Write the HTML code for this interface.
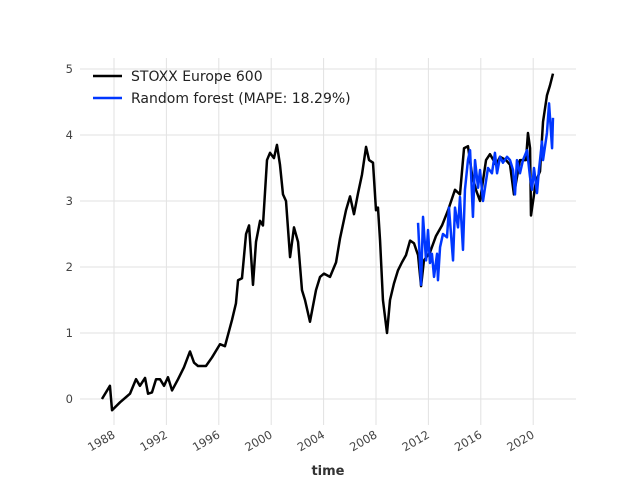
<!DOCTYPE html>
<html><head><meta charset="utf-8">
<style>body{margin:0;background:#fff}svg{font-family:"DejaVu Sans","Liberation Sans",sans-serif}</style></head>
<body>
<svg id="chart" width="640" height="480">
<g id="grid"></g>
<g id="ticks"></g>
<g id="series"></g>
<text x="328" y="480" text-anchor="middle" font-size="13" font-weight="bold" fill="#333" dy="-5">time</text>
<g>
<line x1="93" y1="76" x2="122" y2="76" stroke="#000" stroke-width="2.5"/>
<text x="131" y="81" font-size="14" fill="#222">STOXX Europe 600</text>
<line x1="93" y1="98" x2="122" y2="98" stroke="#0037ff" stroke-width="2.5"/>
<text x="131" y="103" font-size="14" fill="#222">Random forest (MAPE: 18.29%)</text>
</g>
</svg>
<script>
const actualDates=[1987.08,1987.69,1987.85,1988.46,1989.22,1989.68,1989.98,1990.37,1990.60,1990.90,1991.21,1991.51,1991.82,1992.12,1992.43,1992.89,1993.34,1993.80,1994.11,1994.41,1995.02,1995.48,1996.09,1996.47,1997.01,1997.31,1997.47,1997.77,1998.08,1998.31,1998.61,1998.84,1999.15,1999.37,1999.68,1999.91,2000.21,2000.44,2000.67,2000.90,2001.13,2001.44,2001.74,2002.05,2002.35,2002.58,2002.96,2003.42,2003.73,2004.03,2004.49,2004.95,2005.25,2005.71,2006.02,2006.32,2006.63,2006.93,2007.24,2007.47,2007.77,2008.0,2008.15,2008.31,2008.53,2008.84,2009.07,2009.37,2009.68,2009.98,2010.29,2010.60,2010.90,2011.21,2011.44,2011.66,2012.12,2012.58,2013.04,2013.50,2014.03,2014.41,2014.72,2015.02,2015.33,2015.63,2015.94,2016.40,2016.70,2017.16,2017.47,2017.92,2018.23,2018.53,2018.99,2019.45,2019.60,2019.76,2019.83,2020.21,2020.52,2020.75,2021.05,2021.28,2021.51];
const actualValues=[0,0.2,-0.17,-0.05,0.08,0.3,0.2,0.32,0.08,0.1,0.3,0.3,0.2,0.33,0.13,0.3,0.48,0.72,0.55,0.5,0.5,0.63,0.83,0.8,1.2,1.45,1.8,1.83,2.5,2.63,1.73,2.38,2.7,2.63,3.62,3.73,3.65,3.85,3.55,3.1,3.0,2.15,2.6,2.38,1.65,1.5,1.17,1.65,1.85,1.9,1.85,2.07,2.43,2.86,3.07,2.8,3.12,3.4,3.82,3.62,3.58,2.86,2.9,2.4,1.5,1.0,1.5,1.75,1.95,2.07,2.18,2.4,2.36,2.18,1.71,2.1,2.22,2.47,2.63,2.86,3.17,3.1,3.8,3.83,3.4,3.17,3.0,3.62,3.71,3.55,3.67,3.62,3.55,3.1,3.62,3.62,4.03,3.8,2.78,3.3,3.45,4.2,4.6,4.75,4.93];
const forecastDates=[2011.21,2011.44,2011.59,2011.82,2011.97,2012.12,2012.27,2012.43,2012.66,2012.73,2012.89,2013.11,2013.42,2013.57,2013.88,2014.03,2014.26,2014.41,2014.64,2014.79,2015.02,2015.18,2015.40,2015.56,2015.79,2015.94,2016.17,2016.32,2016.55,2016.85,2017.08,2017.24,2017.47,2017.69,2018.0,2018.23,2018.46,2018.61,2018.76,2018.99,2019.22,2019.53,2019.76,2019.91,2020.06,2020.29,2020.44,2020.67,2020.75,2021.05,2021.21,2021.44,2021.51];
const forecastValues=[2.67,1.73,2.76,2.1,2.56,2.06,2.2,1.85,2.2,1.8,2.3,2.5,2.45,2.9,2.1,2.9,2.6,3.06,2.26,3.17,3.62,3.77,2.76,3.62,3.2,3.47,3.0,3.2,3.5,3.42,3.73,3.42,3.67,3.58,3.67,3.62,3.47,3.1,3.62,3.42,3.62,3.77,3.36,3.17,3.5,3.12,3.47,3.9,3.62,4.03,4.48,3.8,4.26];
const xTicks=[1988,1992,1996,2000,2004,2008,2012,2016,2020];
const yTicks=[0,1,2,3,4,5];
const NS="http://www.w3.org/2000/svg";
const xs=y=>114+(y-1988)*13.1;
const ys=v=>399-v*66;
const grid=document.getElementById('grid'),ticks=document.getElementById('ticks'),series=document.getElementById('series');
function mk(t,a){const e=document.createElementNS(NS,t);for(const k in a)e.setAttribute(k,a[k]);return e;}
xTicks.forEach(t=>{
  const l=mk('line',{x1:xs(t),x2:xs(t),y1:58,y2:425,stroke:'#e2e2e2','stroke-width':1});
  
  
  grid.appendChild(l);
  const tx=mk('text',{x:xs(t)+2,y:437,'font-size':11.5,fill:'#444','text-anchor':'end',transform:`rotate(-30 ${xs(t)+2} 437)`});
  
  
  tx.textContent=t;ticks.appendChild(tx);
});
yTicks.forEach(t=>{
  const l=mk('line',{x1:80,x2:576,y1:ys(t),y2:ys(t),stroke:'#e2e2e2','stroke-width':1});
  
  
  grid.appendChild(l);
  const tx=mk('text',{x:73,y:ys(t)+4,'font-size':11.5,fill:'#444','text-anchor':'end'});
  
  
  tx.textContent=t;ticks.appendChild(tx);
});
function path(d,v,c,name){
  const p=mk('polyline',{points:d.map((x,i)=>xs(x)+','+ys(v[i])).join(' '),fill:'none',stroke:c,'stroke-width':2.5,'stroke-linejoin':'round'});
  
  
  series.appendChild(p);
}
path(actualDates,actualValues,'#000','actual-line');
path(forecastDates,forecastValues,'#0037ff','forecast-line');
</script>
</body></html>
